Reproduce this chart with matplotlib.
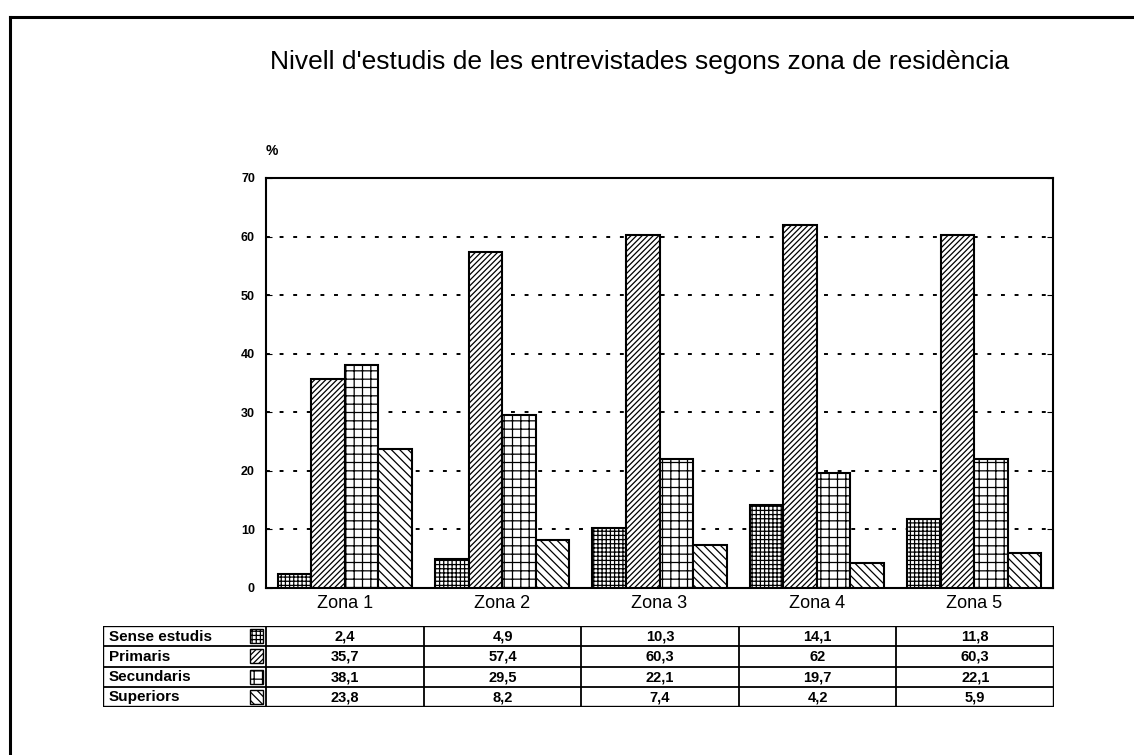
"""Nivell d'estudis de les entrevistades segons zona de residència."""
import matplotlib
matplotlib.use("Agg")
import matplotlib.pyplot as plt
from matplotlib.lines import Line2D
from matplotlib.patches import Rectangle

plt.rcParams["font.family"] = ["Liberation Sans", "DejaVu Sans"]
plt.rcParams["hatch.linewidth"] = 0.9

zones = ["Zona 1", "Zona 2", "Zona 3", "Zona 4", "Zona 5"]
levels = ["Sense estudis", "Primaris", "Secundaris", "Superiors"]
sense_estudis = [2.4, 4.9, 10.3, 14.1, 11.8]
primaris = [35.7, 57.4, 60.3, 62, 60.3]
secundaris = [38.1, 29.5, 22.1, 19.7, 22.1]
superiors = [23.8, 8.2, 7.4, 4.2, 5.9]
y_ticks = [0, 10, 20, 30, 40, 50, 60, 70]

series = [sense_estudis, primaris, secundaris, superiors]
hatches = ["++++", "//////", "++", "\\\\\\\\"]

W, H = 1134, 755
fig = plt.figure(figsize=(W / 100, H / 100), dpi=100)

# page border (top + left)
fig.add_artist(Line2D([10 / W, 1.0], [1 - 17 / H, 1 - 17 / H], color="black", lw=2.2))
fig.add_artist(Line2D([10 / W, 10 / W], [0, 1 - 17 / H], color="black", lw=2.2))

fig.text(640 / W, 1 - 62 / H, "Nivell d'estudis de les entrevistades segons zona de residència",
         ha="center", va="center", fontsize=19)

# main chart
ax_l, ax_r, ax_t, ax_b = 266, 1053, 178, 588
ax = fig.add_axes([ax_l / W, 1 - ax_b / H, (ax_r - ax_l) / W, (ax_b - ax_t) / H])
bw = 0.213
x = range(len(zones))
for k, (vals, h) in enumerate(zip(series, hatches)):
    pos = [i + (k - 1.5) * bw for i in x]
    ax.bar(pos, vals, width=bw, facecolor="white", edgecolor="black",
           hatch=h, linewidth=1.5, zorder=3)

ax.set_xlim(-0.5, len(zones) - 0.5)
ax.set_ylim(0, 70)
ax.set_yticks(y_ticks)
ax.set_yticklabels([str(t) for t in y_ticks], fontsize=9, fontweight="bold")
ax.set_xticks(list(x))
ax.set_xticklabels(zones, fontsize=13)
ax.tick_params(axis="x", length=0, pad=5)
ax.tick_params(axis="y", direction="in", length=4, right=True, pad=8)
for t in y_ticks[1:-1]:
    ax.axhline(t, color="black", lw=1.4, ls=(0, (2, 5)), zorder=1)
for s in ax.spines.values():
    s.set_linewidth(1.5)
fig.text(272 / W, 1 - 151 / H, "%", fontsize=10, fontweight="bold", ha="center", va="center")

# data table under the chart
t_l, t_r, t_t, t_b = 103, 1054, 626, 707
col_w = (ax_r - ax_l) / len(zones)
x_left = -0.5 - (ax_l - t_l) / col_w
tax = fig.add_axes([t_l / W, 1 - t_b / H, (t_r - t_l) / W, (t_b - t_t) / H])
tax.set_xlim(x_left, len(zones) - 0.5)
tax.set_ylim(len(levels), 0)
tax.axis("off")
tax.add_patch(Rectangle((x_left, 0), len(zones) - 0.5 - x_left, len(levels),
                        fill=False, edgecolor="black", lw=1.7))
for r in range(1, len(levels)):
    tax.plot([x_left, len(zones) - 0.5], [r, r], color="black", lw=1.3)
for c in range(len(zones)):
    tax.plot([c - 0.5, c - 0.5], [0, len(levels)], color="black", lw=1.3)
for r, (name, vals, h) in enumerate(zip(levels, series, hatches)):
    tax.text(x_left + 0.035, r + 0.52, name, ha="left", va="center", fontsize=11, fontweight="bold")
    tax.add_patch(Rectangle((-0.6, r + 0.15), 0.078, 0.7, facecolor="white",
                            edgecolor="black", hatch=h, lw=1.0))
    for c, v in enumerate(vals):
        tax.text(c, r + 0.52, f"{v:g}".replace(".", ","), ha="center", va="center",
                 fontsize=10.5, fontweight="bold")

fig.savefig("out.png", dpi=100)
